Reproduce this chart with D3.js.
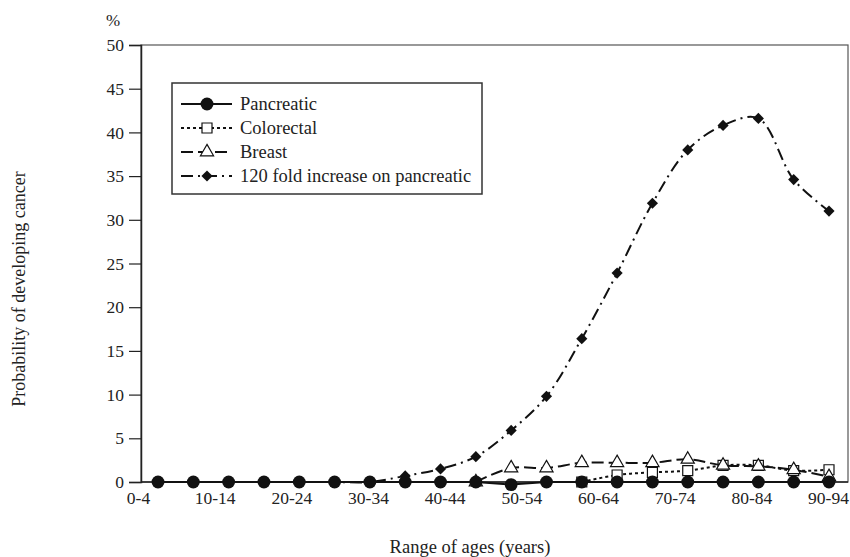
<!DOCTYPE html>
<html>
<head>
<meta charset="utf-8">
<script src="https://cdn.jsdelivr.net/npm/d3@7"></script>
<style>
  body { margin: 0; background: #fff; }
  text { font-family: "Liberation Serif", "Times New Roman", serif; fill: #222; }
</style>
</head>
<body>
<script>
// age groups shown on the axis (every other one is labelled)
var ageGroups = ["0-4","5-9","10-14","15-19","20-24","25-29","30-34","35-39","40-44","45-49",
  "50-54","55-59","60-64","65-69","70-74","75-79","80-84","85-89","90-94"];
// index of each plotted point (20 points)
var pointIndex = d3.range(20);
// series values, % probability
var pancreatic = [0,0,0,0,0,0,0,0,0,0,-0.3,0,0,0,0,0,0,0,0,0];
var colorectal = [null,null,null,null,null,null,null,null,null,null,null,null,0,0.8,1.1,1.3,1.9,1.9,1.3,1.4];
var breast = [null,null,null,null,null,null,null,null,null,0,1.6,1.6,2.2,2.2,2.2,2.6,1.9,1.8,1.4,0.6];
var fold120 = [0,0,0,0,0,0,0,0.7,1.5,2.9,5.9,9.8,16.4,23.9,31.9,38.0,40.8,41.6,34.6,31.0];
var yTicks = [0,5,10,15,20,25,30,35,40,45,50];

var w = 850, h = 557;
var plotL = 141, plotR = 848, plotT = 45, plotB = 482;
var serif = "'Liberation Serif', 'Times New Roman', serif";

var svg = d3.select("body").append("svg")
  .attr("width", w)
  .attr("height", h)
  .style("font-family", serif);

//scales
var y = d3.scaleLinear().domain([0, 50]).range([plotB, plotT]);
var x = d3.scaleLinear().domain([0, 19]).range([158, 829]);
var xLab = d3.scalePoint().domain(ageGroups).range([138, 828]);

//plot frame
svg.append("rect")
  .attr("x", plotL).attr("y", plotT)
  .attr("width", plotR - plotL).attr("height", plotB - plotT)
  .attr("fill", "none").attr("stroke", "#555").attr("stroke-width", 1.2);

//y axis
var yAxis = svg.append("g")
  .attr("transform", "translate(" + plotL + ",0)")
  .call(d3.axisLeft(y).tickValues(yTicks).tickSize(12).tickPadding(5));
yAxis.attr("font-family", serif);
yAxis.select(".domain").attr("stroke", "#222").attr("stroke-width", 1.5);
yAxis.selectAll(".tick line").attr("stroke", "#222").attr("stroke-width", 1.2);
yAxis.selectAll("text").style("font-family", serif).style("font-size", "17.5px").attr("fill", "#222");

//x axis labels
var xAxis = svg.append("g")
  .attr("transform", "translate(0," + plotB + ")")
  .call(d3.axisBottom(xLab).tickSize(0).tickPadding(10)
    .tickFormat(function(d, i){ return i % 2 ? "" : d; }));
xAxis.attr("font-family", serif);
xAxis.select(".domain").remove();
xAxis.selectAll("text").style("font-family", serif).style("font-size", "17.5px").attr("fill", "#222");

//x axis line over frame
svg.append("line")
  .attr("x1", plotL).attr("x2", plotR).attr("y1", plotB).attr("y2", plotB)
  .attr("stroke", "#222").attr("stroke-width", 1.5);

//titles
svg.append("text").attr("x", 113).attr("y", 26).attr("text-anchor", "middle")
  .style("font-size", "17px").text("%");
svg.append("text").attr("x", 470).attr("y", 553).attr("text-anchor", "middle")
  .style("font-size", "18.5px").attr("fill", "#333").text("Range of ages (years)");
svg.append("text").attr("transform", "translate(25,289) rotate(-90)").attr("text-anchor", "middle")
  .style("font-size", "18px").attr("fill", "#333").text("Probability of developing cancer");

//series definitions
var series = [
  {name: "120 fold increase on pancreatic", values: fold120, dash: "12,5,2,5", marker: "diamond", curve: d3.curveCatmullRom.alpha(0.5)},
  {name: "Colorectal", values: colorectal, dash: "3,3", marker: "square", curve: d3.curveCatmullRom.alpha(0.5)},
  {name: "Breast", values: breast, dash: "12,5", marker: "triangle", curve: d3.curveCatmullRom.alpha(0.5)},
  {name: "Pancreatic", values: pancreatic, dash: null, marker: "circle", curve: d3.curveLinear}
];

var symbols = {
  diamond: d3.symbol().type(d3.symbolSquare).size(62),
  square: d3.symbol().type(d3.symbolSquare).size(100),
  triangle: d3.symbol().type(d3.symbolTriangle).size(75),
  circle: d3.symbol().type(d3.symbolCircle).size(130)
};
function markerFill(m){ return (m === "square" || m === "triangle") ? "#fff" : "#111"; }
function markerRot(m){ return m === "diamond" ? " rotate(45)" : ""; }

series.forEach(function(s){
  var pts = pointIndex.map(function(i){ return {i: i, v: s.values[i]}; })
    .filter(function(d){ return d.v !== null; });
  var line = d3.line()
    .x(function(d){ return x(d.i); })
    .y(function(d){ return y(d.v); })
    .curve(s.curve);
  svg.append("path")
    .datum(pts)
    .attr("d", line)
    .attr("fill", "none")
    .attr("stroke", "#111")
    .attr("stroke-width", 2)
    .attr("stroke-dasharray", s.dash);
  svg.selectAll(".m-" + s.marker)
    .data(pts)
    .enter()
    .append("path")
    .attr("class", "m-" + s.marker)
    .attr("d", symbols[s.marker])
    .attr("transform", function(d){ return "translate(" + x(d.i) + "," + y(d.v) + ")" + markerRot(s.marker); })
    .attr("fill", markerFill(s.marker))
    .attr("stroke", "#111")
    .attr("stroke-width", s.marker === "circle" || s.marker === "diamond" ? 0 : 1.2);
});

//legend
var legendOrder = ["Pancreatic", "Colorectal", "Breast", "120 fold increase on pancreatic"];
var legend = svg.append("g");
legend.append("rect")
  .attr("x", 172).attr("y", 83).attr("width", 310).attr("height", 111)
  .attr("fill", "#fff").attr("stroke", "#333").attr("stroke-width", 1.5);
legendOrder.forEach(function(name, k){
  var s = series.filter(function(d){ return d.name === name; })[0];
  var ly = 104 + k * 24;
  legend.append("line")
    .attr("x1", 181).attr("x2", 232).attr("y1", ly).attr("y2", ly)
    .attr("stroke", "#111").attr("stroke-width", 2)
    .attr("stroke-dasharray", s.dash);
  legend.append("path")
    .attr("d", symbols[s.marker])
    .attr("transform", "translate(207," + ly + ")" + markerRot(s.marker))
    .attr("fill", markerFill(s.marker))
    .attr("stroke", "#111")
    .attr("stroke-width", s.marker === "circle" || s.marker === "diamond" ? 0 : 1.2);
  legend.append("text")
    .attr("x", 240).attr("y", ly + 6)
    .style("font-family", serif)
    .style("font-size", "18.5px")
    .text(name);
});
</script>
</body>
</html>
